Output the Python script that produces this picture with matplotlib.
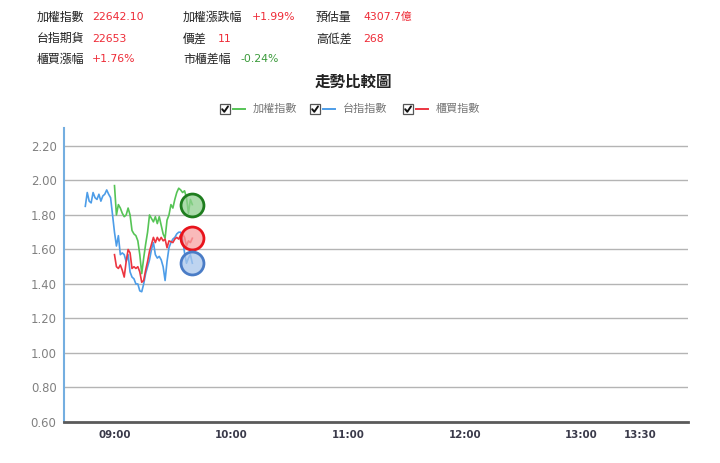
import matplotlib
matplotlib.use("Agg")
import matplotlib.pyplot as plt
from matplotlib.patches import Rectangle
from matplotlib.colors import to_rgba

plt.rcParams['font.family'] = ['Noto Sans CJK TC', 'DejaVu Sans']

# ---------------- data ----------------
# minutes relative to 09:00
taiex_min = list(range(0, 41))
taiex_val = [1.97, 1.80, 1.86, 1.84, 1.81, 1.79, 1.80, 1.84, 1.80, 1.71,
             1.69, 1.68, 1.65, 1.57, 1.46, 1.55, 1.63, 1.70, 1.80, 1.78,
             1.76, 1.79, 1.75, 1.79, 1.74, 1.69, 1.665, 1.77, 1.80, 1.86,
             1.84, 1.89, 1.93, 1.955, 1.945, 1.93, 1.94, 1.90, 1.81, 1.89, 1.86]

fut_min = list(range(-15, 41))
fut_val = [1.85, 1.93, 1.88, 1.87, 1.93, 1.90, 1.89, 1.92, 1.88, 1.91,
           1.92, 1.945, 1.92, 1.90, 1.80, 1.70, 1.62, 1.68, 1.57, 1.58,
           1.57, 1.53, 1.57, 1.47, 1.44, 1.43, 1.40, 1.40, 1.36, 1.355,
           1.40, 1.46, 1.50, 1.54, 1.60, 1.64, 1.57, 1.55, 1.56, 1.54,
           1.50, 1.42, 1.53, 1.61, 1.64, 1.66, 1.67, 1.69, 1.70, 1.70,
           1.66, 1.58, 1.52, 1.55, 1.57, 1.52]

otc_min = list(range(0, 41))
otc_val = [1.57, 1.50, 1.49, 1.51, 1.48, 1.44, 1.53, 1.60, 1.58, 1.49,
           1.50, 1.49, 1.50, 1.47, 1.41, 1.42, 1.48, 1.53, 1.59, 1.63,
           1.67, 1.64, 1.67, 1.65, 1.67, 1.65, 1.66, 1.61, 1.65, 1.645,
           1.64, 1.66, 1.67, 1.66, 1.685, 1.69, 1.67, 1.62, 1.65, 1.64, 1.665]

xtick_min = [0, 60, 120, 180, 240, 270]
xtick_labels = ['09:00', '10:00', '11:00', '12:00', '13:00', '13:30']
ytick_vals = [0.60, 0.80, 1.00, 1.20, 1.40, 1.60, 1.80, 2.00, 2.20]

series_names = ['加權指數', '台指指數', '櫃買指數']

header_rows = [
    [('加權指數', '22642.10', 'r'), ('加權漲跌幅', '+1.99%', 'r'), ('預估量', '4307.7億', 'r')],
    [('台指期貨', '22653', 'r'), ('價差', '11', 'r'), ('高低差', '268', 'r')],
    [('櫃買漲幅', '+1.76%', 'r'), ('市櫃差幅', '-0.24%', 'g'), None],
]

# ---------------- style ----------------
GREEN = '#56c456'
BLUE = '#4d9de8'
RED = '#ec3540'
W, H = 720, 463

fig = plt.figure(figsize=(W / 100, H / 100), dpi=100)
ax = fig.add_axes([63.5 / W, 1 - 422 / H, (688 - 63.5) / W, (422 - 128) / H])

ax.plot(taiex_min, taiex_val, color=GREEN, lw=1.2, zorder=3)
ax.plot(fut_min, fut_val, color=BLUE, lw=1.2, zorder=3)
ax.plot(otc_min, otc_val, color=RED, lw=1.2, zorder=3)

circ = [(taiex_min, taiex_val, '#1e7d1e', '#8fd08f'),
        (otc_min, otc_val, '#e8141c', '#f7a3a3'),
        (fut_min, fut_val, '#4a7cc6', '#a9c6ec')]
for xs, ys, ec, fc in circ:
    ax.plot([xs[-1]], [ys[-1]], marker='o', ms=16.5, mec=ec, mew=2,
            mfc=to_rgba(fc, 0.75), zorder=4, ls='none')

ax.set_xlim(-26.2, 294.7)
ax.set_ylim(0.60, 2.304)
ax.set_yticks(ytick_vals)
ax.set_yticklabels([f'{v:.2f}' for v in ytick_vals], family='DejaVu Sans',
                   fontsize=8.4, color='#808080')
ax.set_xticks(xtick_min)
ax.set_xticklabels(xtick_labels, family='DejaVu Sans', fontsize=7.4,
                   fontweight='bold', color='#3a3a4a')
ax.tick_params(axis='both', length=0)
ax.tick_params(axis='y', pad=5)
ax.tick_params(axis='x', pad=6)

for v in ytick_vals[1:]:
    ax.axhline(v, color='#b4b4b4', lw=1, zorder=1)

for s in ['top', 'right']:
    ax.spines[s].set_visible(False)
ax.spines['left'].set_color('#74aee0')
ax.spines['left'].set_linewidth(1.5)
ax.spines['bottom'].set_color('#5a5a5a')
ax.spines['bottom'].set_linewidth(2)

# ---------------- overlay (header, title, legend) in pixel coords ----------------
ov = fig.add_axes([0, 0, 1, 1], zorder=-1)
ov.set_xlim(0, W)
ov.set_ylim(H, 0)
ov.axis('off')

row_y = [17.3, 38.8, 59.3]
label_x = [37, 183, 316]
value_x = [[92, 252, 363], [92, 218, 363], [92, 240, 363]]
for r, row in enumerate(header_rows):
    for c, item in enumerate(row):
        if item is None:
            continue
        lab, val, col = item
        ov.text(label_x[c], row_y[r], lab, fontsize=8.6, color='#222222',
                va='center', ha='left')
        ov.text(value_x[r][c], row_y[r], val, fontsize=7.8,
                color='#ee2a36' if col == 'r' else '#3a9a3a',
                family=['DejaVu Sans', 'Noto Sans CJK TC'], va='center', ha='left')

ov.text(353, 82, '走勢比較圖', fontsize=11.2, color='#222222', fontweight='bold',
        ha='center', va='center')

leg_y = 109
leg_x = [220, 310, 403]
leg_cols = [GREEN, BLUE, RED]
for lx, name, col in zip(leg_x, series_names, leg_cols):
    ov.add_patch(Rectangle((lx, leg_y - 5), 10, 10, fill=False, ec='#555555', lw=0.9))
    ov.plot([lx + 2.2, lx + 4.3, lx + 8], [leg_y + 0.2, leg_y + 2.8, leg_y - 2.6],
            color='#111111', lw=1.4, solid_capstyle='round')
    ov.plot([lx + 13, lx + 25], [leg_y, leg_y], color=col, lw=1.4)
    ov.text(lx + 33, leg_y, name, fontsize=8.0, color='#777777', va='center', ha='left')

fig.savefig('out.png', dpi=100)
